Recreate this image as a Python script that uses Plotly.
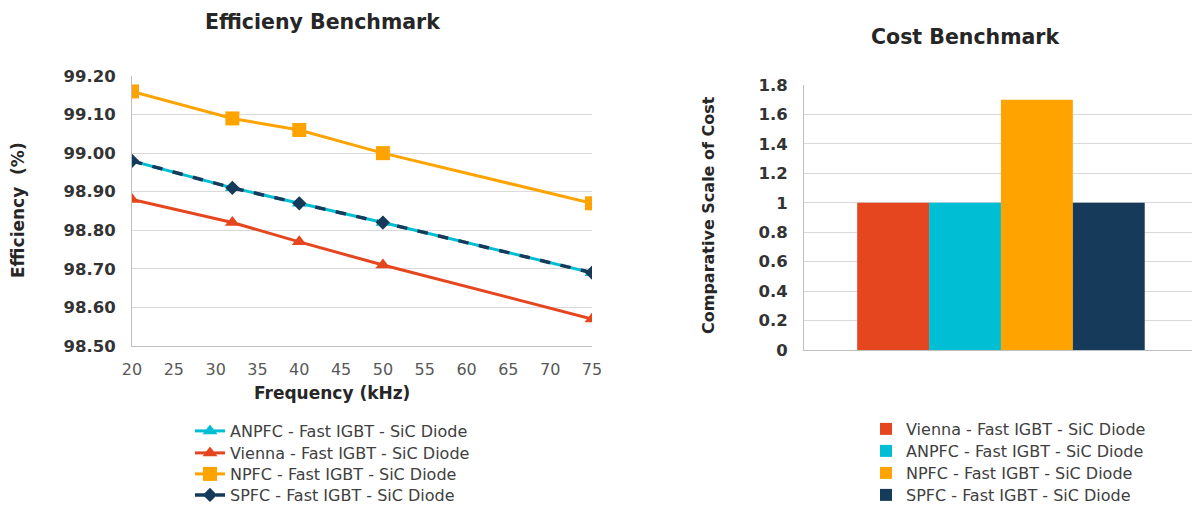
import plotly.graph_objects as go

W, H = 1192, 506

# ---- data ----
freq_khz = [20, 32, 40, 50, 75]
eff_anpfc = [98.98, 98.91, 98.87, 98.82, 98.69]
eff_vienna = [98.88, 98.82, 98.77, 98.71, 98.57]
eff_npfc = [99.16, 99.09, 99.06, 99.00, 98.87]
eff_spfc = [98.98, 98.91, 98.87, 98.82, 98.69]

cost_names = ["Vienna - Fast IGBT - SiC Diode", "ANPFC - Fast IGBT - SiC Diode",
              "NPFC - Fast IGBT - SiC Diode", "SPFC - Fast IGBT - SiC Diode"]
cost_values = [1.0, 1.0, 1.7, 1.0]

C_RED = "#E5461F"
C_CYAN = "#00BFD5"
C_ORANGE = "#FFA300"
C_NAVY = "#163A59"
cost_colors = [C_RED, C_CYAN, C_ORANGE, C_NAVY]

FONT = "DejaVu Sans"

# legend item centre rows (px from top)
left_legend_rows = [431, 453, 474, 495]
right_legend_rows = [429, 451, 473, 495]
left_legend_ids = ["legend", "legend3", "legend4", "legend5"]
right_legend_ids = ["legend2", "legend6", "legend7", "legend8"]

fig = go.Figure()

# ---- left: efficiency lines ----
fig.add_trace(go.Scatter(x=freq_khz, y=eff_anpfc, name="ANPFC - Fast IGBT - SiC Diode",
                         mode="lines+markers", line=dict(color=C_CYAN, width=3),
                         marker=dict(symbol="triangle-up", size=13, color=C_CYAN),
                         xaxis="x", yaxis="y", legend=left_legend_ids[0]))
fig.add_trace(go.Scatter(x=freq_khz, y=eff_vienna, name="Vienna - Fast IGBT - SiC Diode",
                         mode="lines+markers", line=dict(color=C_RED, width=3),
                         marker=dict(symbol="triangle-up", size=13, color=C_RED),
                         xaxis="x", yaxis="y", legend=left_legend_ids[1]))
fig.add_trace(go.Scatter(x=freq_khz, y=eff_npfc, name="NPFC - Fast IGBT - SiC Diode",
                         mode="lines+markers", line=dict(color=C_ORANGE, width=3),
                         marker=dict(symbol="square", size=14, color=C_ORANGE),
                         xaxis="x", yaxis="y", legend=left_legend_ids[2]))
fig.add_trace(go.Scatter(x=freq_khz, y=eff_spfc, name="SPFC - Fast IGBT - SiC Diode",
                         mode="lines+markers", line=dict(color=C_NAVY, width=3.5, dash="dash"),
                         marker=dict(symbol="diamond", size=11, color=C_NAVY),
                         xaxis="x", yaxis="y", legend=left_legend_ids[3]))

# ---- right: cost bars ----
for name, val, col, lid in zip(cost_names, cost_values, cost_colors, right_legend_ids):
    fig.add_trace(go.Bar(x=[" "], y=[val], name=name, marker=dict(color=col, line=dict(width=0)),
                         xaxis="x2", yaxis="y2", legend=lid))

def px_x(p):
    return p / W

def px_y(p):
    return 1 - p / H

fig.update_layout(
    width=W, height=H,
    margin=dict(l=0, r=0, t=0, b=0, pad=0, autoexpand=False),
    paper_bgcolor="white", plot_bgcolor="white",
    font=dict(family=FONT, color="#404040"),
    barmode="group", bargap=0.27, bargroupgap=0,
    xaxis=dict(domain=[px_x(132), px_x(592)], range=[20, 75], dtick=5, tick0=20,
               showgrid=False, zeroline=False, showline=True, linecolor="#BFBFBF", linewidth=1,
               ticks="", ticklabelstandoff=9, tickfont=dict(family=FONT, size=16, color="#595959"),
               anchor="y", automargin=False),
    yaxis=dict(domain=[px_y(346), px_y(76)], range=[98.5, 99.2], dtick=0.1, tick0=98.5,
               tickformat=".2f", showgrid=True, gridcolor="#D9D9D9", gridwidth=1,
               zeroline=False, showline=True, linecolor="#BFBFBF", linewidth=1,
               ticks="", ticklabelstandoff=12,
               tickfont=dict(family=FONT, size=16.5, color="#333333", weight="bold"),
               anchor="x", automargin=False),
    xaxis2=dict(domain=[px_x(804), 1.0], type="category", range=[-0.5, 0.485],
                showticklabels=False, showgrid=False, zeroline=False, showline=True,
                linecolor="#BFBFBF", linewidth=1, ticks="", anchor="y2", automargin=False),
    yaxis2=dict(domain=[px_y(350), px_y(85)], range=[0, 1.8], dtick=0.2, tick0=0,
                showgrid=True, gridcolor="#D9D9D9", gridwidth=1, zeroline=False,
                showline=True, linecolor="#BFBFBF", linewidth=1, ticks="", ticklabelstandoff=12,
                tickfont=dict(family=FONT, size=16.5, color="#333333", weight="bold"),
                anchor="x2", automargin=False),
    showlegend=True,
)

for lid, row in zip(left_legend_ids, left_legend_rows):
    fig.update_layout({lid: dict(x=px_x(190), y=px_y(row), xanchor="left", yanchor="middle",
                                 font=dict(family=FONT, size=16, color="#404040"),
                                 bgcolor="rgba(0,0,0,0)")})
for lid, row in zip(right_legend_ids, right_legend_rows):
    fig.update_layout({lid: dict(x=px_x(866), y=px_y(row), xanchor="left", yanchor="middle",
                                 font=dict(family=FONT, size=16, color="#404040"),
                                 bgcolor="rgba(0,0,0,0)")})

ann = [
    dict(text="<b>Efficieny Benchmark</b>", x=px_x(323), y=px_y(22), font=dict(size=20.5, color="#262626")),
    dict(text="<b>Cost Benchmark</b>", x=px_x(965), y=px_y(37), font=dict(size=20.5, color="#262626")),
    dict(text="<b>Frequency (kHz)</b>", x=px_x(332), y=px_y(393), font=dict(size=17, color="#262626")),
    dict(text="<b>Efficiency  (%)</b>", x=px_x(18), y=px_y(210), textangle=-90, font=dict(size=17, color="#262626")),
    dict(text="<b>Comparative Scale of Cost</b>", x=px_x(708), y=px_y(215), textangle=-90, font=dict(size=16, color="#262626")),
]
for a in ann:
    fig.add_annotation(xref="paper", yref="paper", showarrow=False, xanchor="center", yanchor="middle",
                       font_family=FONT, **{k: v for k, v in a.items()})

fig.write_html("out.html", config={"displayModeBar": False},
               post_script="document.body.style.margin='0';document.body.style.padding='0';")
